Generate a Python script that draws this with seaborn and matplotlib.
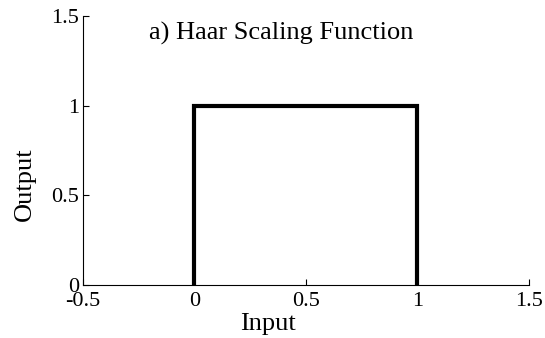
import matplotlib
matplotlib.use("Agg")
import matplotlib.pyplot as plt
import seaborn as sns
import pandas as pd

# Haar scaling function: 1 on [0, 1), 0 elsewhere
input_vals = [0, 0, 1, 1]
output_vals = [0, 1, 1, 0]
x_ticks = [-0.5, 0, 0.5, 1, 1.5]
y_ticks = [0, 0.5, 1, 1.5]
x_tick_labels = ["-0.5", "0", "0.5", "1", "1.5"]
y_tick_labels = ["0", "0.5", "1", "1.5"]

sns.set_style("ticks")
plt.rcParams["font.family"] = ["Liberation Serif", "DejaVu Serif"]
plt.rcParams["axes.unicode_minus"] = False
plt.rcParams["text.color"] = "black"
plt.rcParams["axes.labelcolor"] = "black"

df = pd.DataFrame({"Input": input_vals, "Output": output_vals})

fig = plt.figure(figsize=(5.45, 3.38), dpi=100)
ax = fig.add_axes([0.1523, 0.1568, 0.8183, 0.7959])

sns.lineplot(data=df, x="Input", y="Output", sort=False, estimator=None,
             color="black", linewidth=3, ax=ax)
for ln in ax.lines:
    ln.set_solid_joinstyle("miter")
    ln.set_solid_capstyle("butt")

ax.set_xlim(-0.5, 1.5)
ax.set_ylim(0, 1.5)
ax.set_xticks(x_ticks)
ax.set_xticklabels(x_tick_labels)
ax.set_yticks(y_ticks)
ax.set_yticklabels(y_tick_labels)
ax.tick_params(direction="in", length=4, width=0.8, labelsize=16, pad=3,
               colors="black")
ax.tick_params(axis="x", pad=5)
sns.despine(ax=ax)
for s in ("left", "bottom"):
    ax.spines[s].set_linewidth(0.8)
    ax.spines[s].set_color("black")

ax.set_xlabel("Input", fontsize=19, color="black")
ax.set_ylabel("Output", fontsize=19, color="black")
ax.xaxis.set_label_coords(0.415, -0.145)
ax.xaxis.label.set_va("center")
ax.yaxis.set_label_coords(-0.13, 0.375)
ax.yaxis.label.set_va("center")
ax.text(0.388, 1.405, "a) Haar Scaling Function", ha="center", va="center",
        fontsize=19, color="black")

fig.savefig("out.png", dpi=100)
